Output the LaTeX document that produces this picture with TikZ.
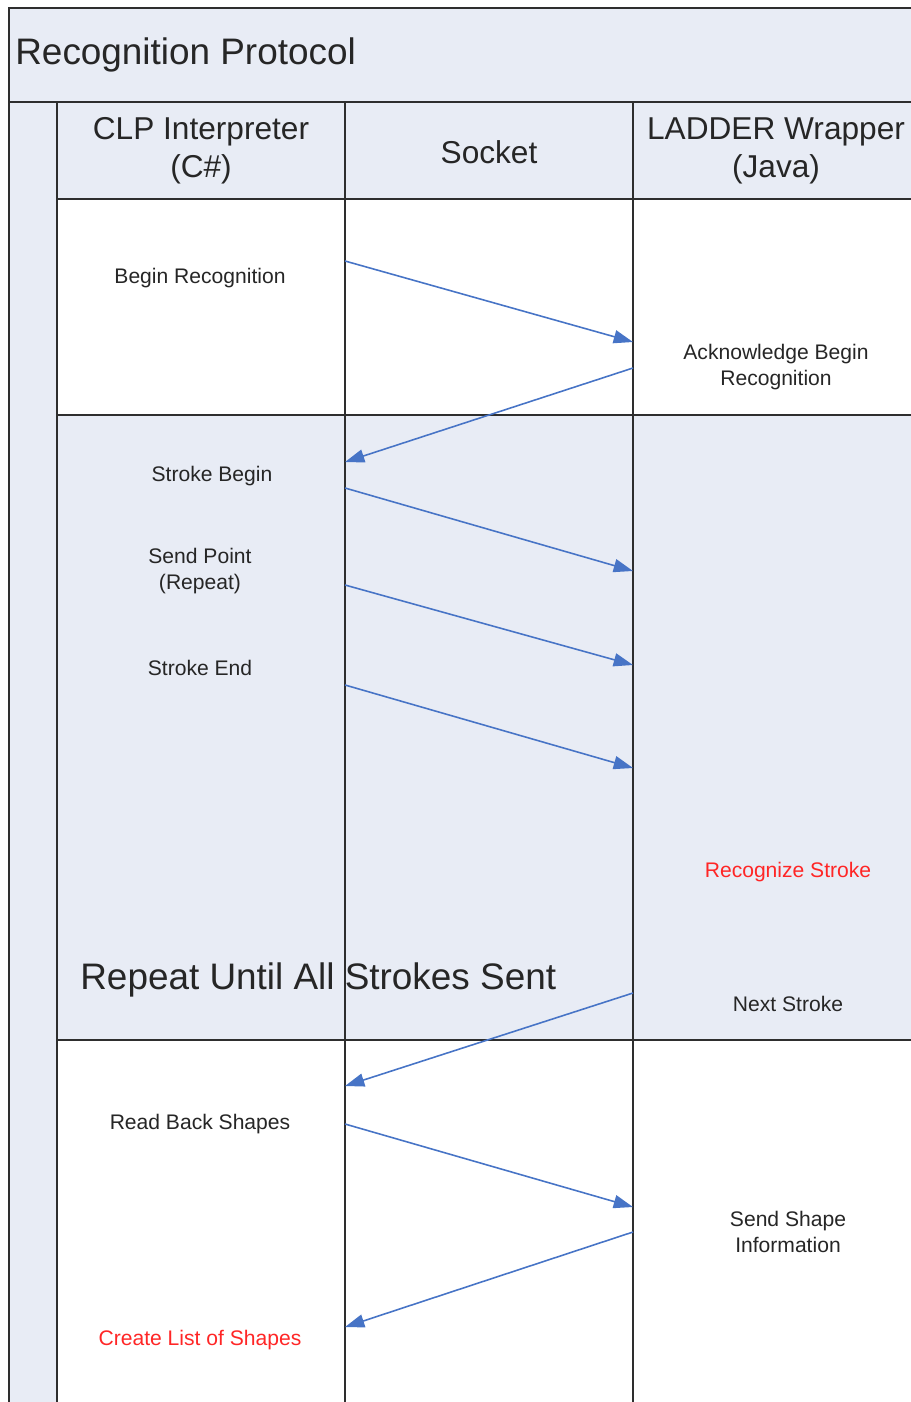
\documentclass[tikz,border=0pt]{standalone}
\usepackage{fontspec}
\setmainfont{Liberation Sans}
\usepackage{xcolor}
\usetikzlibrary{arrows.meta}
\definecolor{lanecol}{HTML}{E8ECF5}
\definecolor{msgcol}{HTML}{4774C6}
\definecolor{notecol}{HTML}{FF2626}
\definecolor{edgecol}{HTML}{2E2E2E}
\tikzstyle{edge}=[edgecol,line width=1.1pt]
\tikzstyle{msg}=[msgcol,line width=0.9pt,-{Triangle[length=11pt,width=7.5pt]}]
\tikzstyle{big}=[font=\fontsize{21}{25}\selectfont,text=black!85,inner sep=0pt]
\tikzstyle{head}=[font=\fontsize{18}{21.5}\selectfont,align=center,text=black!85]
\tikzstyle{small}=[font=\fontsize{12}{14.7}\selectfont,align=center,text=black!85]

\begin{document}
\begin{tikzpicture}[x=0.02cm,y=-0.02cm]
  \useasboundingbox (0,0) rectangle (911,1402);
  \clip (0,0) rectangle (911,1402);
  % bands
  \fill[lanecol] (9,8) rectangle (920,102);
  \fill[lanecol] (9,102) rectangle (57,1410);
  \fill[lanecol] (57,102) rectangle (920,199);
  \fill[lanecol] (57,415) rectangle (920,1040);
  % frame
  \draw[edge] (9,1410) -- (9,8) -- (920,8);
  \draw[edgecol,line width=1.7pt] (9,102) -- (920,102);
  \foreach \x in {57,345,633}
    \draw[edge] (\x,102) -- (\x,1410);
  \foreach \y in {199,415,1040}
    \draw[edge] (57,\y) -- (920,\y);
  % texts
  \node[big,anchor=west] (title) at (15,55) {Recognition Protocol};
  \node[head] (clp) at (201,151) {CLP Interpreter\\(C\#)};
  \node[head] (sock) at (489,152) {Socket};
  \node[head] (ladder) at (776,151) {LADDER Wrapper\\(Java)};
  \node[small] (begin) at (200,278) {Begin Recognition};
  \node[small] (ack) at (776,367) {Acknowledge Begin\\Recognition};
  \node[small] (sbegin) at (212,476) {Stroke Begin};
  \node[small] (spoint) at (200,571) {Send Point\\(Repeat)};
  \node[small] (send) at (200,668) {Stroke End};
  \node[small,text=notecol] (recog) at (788,872) {Recognize Stroke};
  \node[big,anchor=west] (repeat) at (80,980) {Repeat Until All Strokes Sent};
  \node[small] (next) at (788,1004) {Next Stroke};
  \node[small] (readback) at (200,1124) {Read Back Shapes};
  \node[small] (shapeinfo) at (788,1232) {Send Shape\\Information};
  \node[small,text=notecol] (create) at (200,1340) {Create List of Shapes};
  % message ends on the lifelines
  \coordinate (a1) at (345,261);  \coordinate (b1) at (633,342);
  \coordinate (b2) at (633,368);  \coordinate (a2) at (345,462);
  \coordinate (a3) at (345,488);  \coordinate (b3) at (633,571);
  \coordinate (a4) at (345,585);  \coordinate (b4) at (633,665);
  \coordinate (a5) at (345,685);  \coordinate (b5) at (633,768);
  \coordinate (b6) at (633,993);  \coordinate (a6) at (345,1086);
  \coordinate (a7) at (345,1124); \coordinate (b7) at (633,1207);
  \coordinate (b8) at (633,1232); \coordinate (a8) at (345,1327);
  \draw[msg] (a1) -- (b1);
  \draw[msg] (b2) -- (a2);
  \draw[msg] (a3) -- (b3);
  \draw[msg] (a4) -- (b4);
  \draw[msg] (a5) -- (b5);
  \draw[msg] (b6) -- (a6);
  \draw[msg] (a7) -- (b7);
  \draw[msg] (b8) -- (a8);
\end{tikzpicture}
\end{document}
